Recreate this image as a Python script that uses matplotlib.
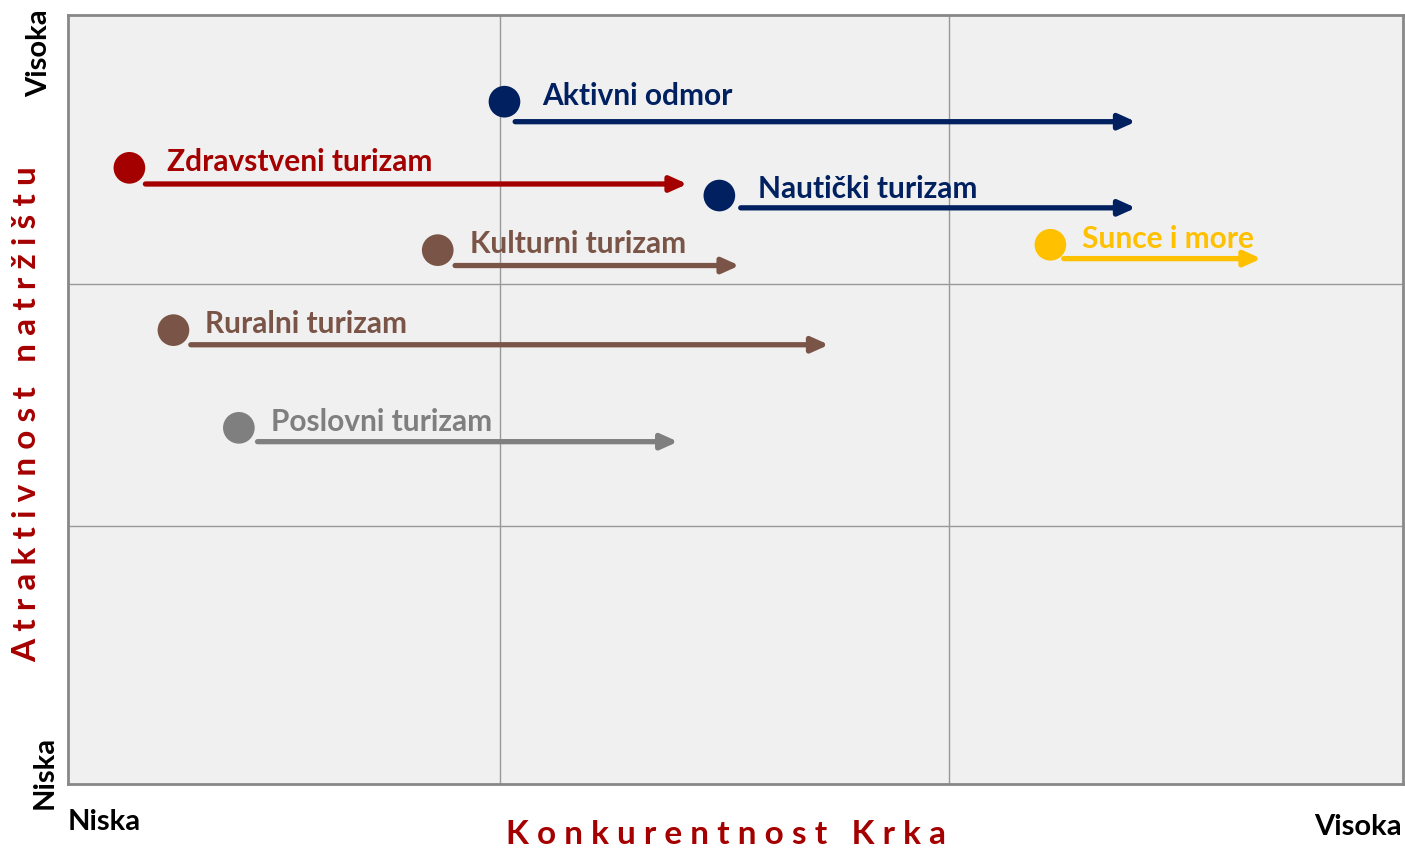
import matplotlib.pyplot as plt

# segment data (axes scaled 0-100)
names = ["Aktivni odmor", "Zdravstveni turizam", "Nautički turizam", "Kulturni turizam",
         "Sunce i more", "Ruralni turizam", "Poslovni turizam"]
dot_x = [32.7, 4.6, 48.8, 27.7, 73.6, 7.9, 12.8]
dot_y = [88.7, 80.1, 76.5, 69.4, 70.1, 59.0, 46.3]
arrow_start = [33.5, 5.8, 50.4, 29.0, 74.6, 9.2, 14.2]
arrow_end = [80.0, 46.4, 80.0, 50.3, 89.4, 57.0, 45.7]
arrow_y = [86.1, 78.0, 74.9, 67.4, 68.3, 57.1, 44.5]
colors = ["#002060", "#A50000", "#002060", "#7A5547", "#FFC000", "#7A5547", "#7F7F7F"]
label_dx = [2.85, 2.85, 2.9, 2.4, 2.35, 2.4, 2.4]

grid_x = [32.4, 66.0]
grid_y = [33.5, 65.0]

plt.rcParams['font.family'] = ['Lato', 'DejaVu Sans']

fig = plt.figure(figsize=(14.05, 8.49), dpi=100)
ax = fig.add_axes([0.0484, 0.0766, 0.950, 0.906])
ax.set_facecolor("#F0F0F0")
ax.set_xlim(0, 100)
ax.set_ylim(0, 100)
ax.set_xticks([])
ax.set_yticks([])
for s in ax.spines.values():
    s.set_color("#888888")
    s.set_linewidth(2)

for gx in grid_x:
    ax.axvline(gx, color="#999999", lw=1, zorder=1)
for gy in grid_y:
    ax.axhline(gy, color="#999999", lw=1, zorder=1)

for i in range(len(names)):
    ax.annotate("", xy=(arrow_end[i], arrow_y[i]), xytext=(arrow_start[i], arrow_y[i]),
                arrowprops=dict(arrowstyle="-|>,head_length=1.0,head_width=0.45",
                                color=colors[i], lw=3.8, shrinkA=0, shrinkB=0), zorder=3)
    ax.scatter(dot_x[i], dot_y[i], s=520, color=colors[i], zorder=4, edgecolors="none")
    ax.text(dot_x[i] + label_dx[i], dot_y[i] + 0.8, names[i], color=colors[i],
            fontsize=21.5, fontweight="bold", va="center", ha="left", zorder=5)

# axis texts
fig.text(0.517, 0.017, "K o n k u r e n t n o s t   K r k a", color="#A50000",
         fontsize=24, fontweight="bold", ha="center", va="center")
fig.text(0.019, 0.512, "A t r a k t i v n o s t   n a t r ž i š t u", color="#A50000",
         fontsize=24, fontweight="bold", ha="center", va="center", rotation=90)
fig.text(0.0484, 0.032, "Niska", fontsize=21, fontweight="bold", ha="left", va="center")
fig.text(0.998, 0.026, "Visoka", fontsize=21, fontweight="bold", ha="right", va="center")
fig.text(0.028, 0.937, "Visoka", fontsize=21, fontweight="bold", ha="center", va="center", rotation=90)
fig.text(0.032, 0.090, "Niska", fontsize=21, fontweight="bold", ha="center", va="center", rotation=90)

fig.savefig("out.png", dpi=100)
